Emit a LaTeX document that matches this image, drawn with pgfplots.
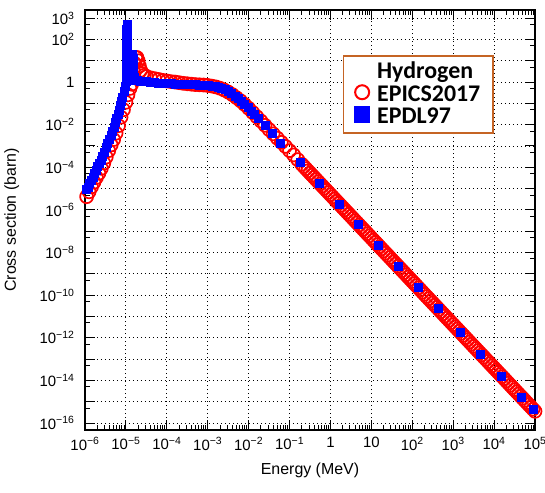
\documentclass[border=0pt]{standalone}
\usepackage{pgfplots}
\pgfplotsset{compat=1.18}
\usepackage{fontspec}
\setmainfont{Liberation Sans}
\newfontfamily\carlito{Carlito}
\definecolor{legbrown}{RGB}{197,100,36}
\begin{document}
\begin{tikzpicture}
\useasboundingbox (-85bp,-63bp) rectangle (460bp,430bp);
\begin{axis}[
  at={(0,0)}, anchor=south west,
  scale only axis, width=450bp, height=420bp,
  xmode=log, ymode=log,
  xmin=1e-6, xmax=1e5, ymin=4.7e-17, ymax=2.4e3,
  clip=false,
  axis line style={line width=1.8bp},
  tick style={black, line width=1bp},
  major tick length=10bp, minor tick length=5bp,
  xtick={1e-6,1e-5,1e-4,1e-3,1e-2,1e-1,1,10,1e2,1e3,1e4,1e5},
  xticklabels={10\textsuperscript{−6},10\textsuperscript{−5},10\textsuperscript{−4},10\textsuperscript{−3},10\textsuperscript{−2},10\textsuperscript{−1},1,10,10\textsuperscript{2},10\textsuperscript{3},10\textsuperscript{4},10\textsuperscript{5}},
  minor xtick={2e-6,3e-6,4e-6,5e-6,6e-6,7e-6,8e-6,9e-6,
    2e-5,3e-5,4e-5,5e-5,6e-5,7e-5,8e-5,9e-5,
    2e-4,3e-4,4e-4,5e-4,6e-4,7e-4,8e-4,9e-4,
    2e-3,3e-3,4e-3,5e-3,6e-3,7e-3,8e-3,9e-3,
    2e-2,3e-2,4e-2,5e-2,6e-2,7e-2,8e-2,9e-2,
    0.2,0.3,0.4,0.5,0.6,0.7,0.8,0.9,
    2,3,4,5,6,7,8,9,
    20,30,40,50,60,70,80,90,
    200,300,400,500,600,700,800,900,
    2000,3000,4000,5000,6000,7000,8000,9000,
    20000,30000,40000,50000,60000,70000,80000,90000},
  ytick={1e-16,1e-15,1e-14,1e-13,1e-12,1e-11,1e-10,1e-9,1e-8,1e-7,1e-6,1e-5,1e-4,1e-3,1e-2,1e-1,1,10,100,1000},
  yticklabels={10\textsuperscript{−16},{},10\textsuperscript{−14},{},10\textsuperscript{−12},{},10\textsuperscript{−10},{},10\textsuperscript{−8},{},10\textsuperscript{−6},{},10\textsuperscript{−4},{},10\textsuperscript{−2},{},1,{},10\textsuperscript{2},10\textsuperscript{3}},
  minor ytick={5e-17,5e-16,5e-15,5e-14,5e-13,5e-12,5e-11,5e-10,5e-9,5e-8,5e-7,5e-6,5e-5,5e-4,5e-3,5e-2,0.5,5,50,500},
  grid=major,
  major grid style={black, line width=0.9bp, dash pattern=on 1.1bp off 2.9bp},
  xticklabel style={font=\fontsize{15}{15}\selectfont, yshift=-4bp},
  yticklabel style={font=\fontsize{15}{15}\selectfont, xshift=-7bp},
  xlabel={Energy (MeV)}, ylabel={Cross section (barn)},
  label style={font=\fontsize{16}{16}\selectfont},
  xlabel style={at={(axis description cs:0.5,-0.095)}, anchor=center},
  ylabel style={at={(axis description cs:-0.163,0.5)}, anchor=center},
  legend style={at={(axis description cs:0.573,0.893)}, anchor=north west,
    draw=legbrown, line width=1.6bp, fill=white,
    font=\carlito\bfseries\fontsize{24}{26}\selectfont,
    cells={anchor=west},
    nodes={inner xsep=2bp, inner ysep=1bp, text height=17bp, text depth=3bp},
    inner xsep=10.5bp, inner ysep=5bp, row sep=0.5bp},
  legend image code/.code={\path (-7bp,2bp) (12bp,2bp); \draw[#1] plot coordinates {(0bp,2bp)};},
]
% EPICS2017 (red open circles)
\addplot[forget plot, only marks, mark=o, mark size=6.5bp, draw=red, line width=1.7bp] coordinates {
(1.096e-6,4.17e-6) (1.259e-6,7.08e-6) (1.445e-6,1.20e-5) (1.660e-6,2.00e-5)
(1.905e-6,3.31e-5) (2.188e-6,5.25e-5) (2.512e-6,8.91e-5) (2.884e-6,1.585e-4)
(3.311e-6,3.02e-4) (3.802e-6,6.03e-4) (4.365e-6,1.12e-3) (5.012e-6,2.00e-3)
(5.754e-6,3.98e-3) (6.607e-6,8.91e-3) (7.586e-6,2.24e-2) (8.710e-6,5.01e-2)
(1.0e-5,0.112) (1.122e-5,0.251) (1.259e-5,0.501) (1.380e-5,0.794)
(1.479e-5,2.0) (1.514e-5,3.98)
(1.585e-5,7.94) (1.738e-5,14.1) (1.862e-5,14.1) (1.995e-5,10.0)
(2.138e-5,5.62) (2.291e-5,3.55) (2.512e-5,2.51) (2.818e-5,2.09)
(3.162e-5,1.82) (3.981e-5,1.585) (5.012e-5,1.445) (6.310e-5,1.318)
(7.943e-5,1.202) (1e-4,1.122) (1.259e-4,1.047) (1.585e-4,1.0)
(1.995e-4,0.933) (2.512e-4,0.871) (3.162e-4,0.832) (3.981e-4,0.794)
(5.012e-4,0.759) (6.310e-4,0.741) (7.943e-4,0.724) (1e-3,0.692)
(1.259e-3,0.646) (1.585e-3,0.589) (1.995e-3,0.513) (2.512e-3,0.427)
(3.162e-3,0.339) (3.981e-3,0.257) (5.012e-3,0.186) (6.310e-3,0.132)
(7.943e-3,0.0891) (1e-2,0.0589) (1.259e-2,0.0372) (1.585e-2,0.0234)
(1.995e-2,0.0148) (2.512e-2,9.33e-3) (3.162e-2,5.89e-3) (3.981e-2,3.72e-3)
(5.012e-2,2.34e-3) (6.310e-2,1.48e-3) (7.943e-2,9.55e-4) (0.1,6.03e-4)
(0.1259,3.80e-4) (0.1585,2.29e-4)
(0.1995,1.38e-4) (0.2239,1.092e-4) (0.2512,8.61e-5) (0.2818,6.81e-5)
(0.3162,5.40e-5) (0.3548,4.27e-5) (0.3981,3.38e-5) (0.4467,2.67e-5)
(0.5012,2.11e-5) (0.5623,1.67e-5) (0.6310,1.32e-5) (0.7079,1.044e-5)
(0.7943,8.30e-6) (0.8913,6.57e-6) (1,5.19e-6) (1.122,4.11e-6)
(1.259,3.25e-6) (1.413,2.57e-6) (1.585,2.04e-6) (1.778,1.61e-6)
(1.995,1.27e-6) (2.239,1.005e-6) (2.512,7.98e-7) (2.818,6.31e-7)
(3.162,5.00e-7) (3.548,3.96e-7) (3.981,3.13e-7) (4.467,2.48e-7)
(5.012,1.96e-7) (5.623,1.55e-7) (6.310,1.23e-7) (7.079,9.73e-8)
(7.943,7.67e-8) (8.913,6.07e-8) (10,4.81e-8) (11.22,3.80e-8)
(12.59,3.01e-8) (14.13,2.38e-8) (15.85,1.88e-8) (17.78,1.49e-8)
(19.95,1.18e-8) (22.39,9.33e-9) (25.12,7.40e-9) (28.18,5.85e-9)
(31.62,4.62e-9) (35.48,3.65e-9) (39.81,2.90e-9) (44.67,2.29e-9)
(50.12,1.82e-9) (56.23,1.44e-9) (63.10,1.14e-9) (70.79,9.02e-10)
(79.43,7.11e-10) (89.13,5.62e-10) (100,4.46e-10) (112.2,3.53e-10)
(125.9,2.79e-10) (141.3,2.21e-10) (158.5,1.75e-10) (177.8,1.38e-10)
(199.5,1.09e-10) (223.9,8.62e-11) (251.2,6.84e-11) (281.8,5.41e-11)
(316.2,4.29e-11) (354.8,3.39e-11) (398.1,2.69e-11) (446.7,2.13e-11)
(501.2,1.68e-11) (562.3,1.33e-11) (631.0,1.05e-11) (707.9,8.31e-12)
(794.3,6.59e-12) (891.3,5.21e-12) (1000,4.12e-12) (1122,3.26e-12)
(1259,2.58e-12) (1413,2.04e-12) (1585,1.62e-12) (1778,1.28e-12)
(1995,1.01e-12) (2239,7.99e-13) (2512,6.34e-13) (2818,5.01e-13)
(3162,3.97e-13) (3548,3.14e-13) (3981,2.48e-13) (4467,1.96e-13)
(5012,1.56e-13) (5623,1.23e-13) (6310,9.75e-14) (7079,7.71e-14)
(7943,6.10e-14) (8913,4.83e-14) (10000,3.82e-14) (11220,3.02e-14)
(12589,2.39e-14) (14125,1.89e-14) (15849,1.50e-14) (17783,1.19e-14)
(19953,9.38e-15) (22387,7.42e-15) (25119,5.87e-15) (28184,4.64e-15)
(31623,3.67e-15) (35481,2.90e-15) (39811,2.30e-15) (44668,1.82e-15)
(50119,1.44e-15) (56234,1.14e-15) (63096,9.02e-16) (70795,7.13e-16)
(79433,5.65e-16) (89125,4.47e-16) (100000,3.54e-16)
};
% EPDL97 (blue filled squares)
\addplot[forget plot, only marks, mark=square*, mark size=4bp, draw=blue, fill=blue] coordinates {
(1.072e-6,8.91e-6) (1.175e-6,1.175e-5) (1.288e-6,1.70e-5) (1.413e-6,2.45e-5)
(1.549e-6,3.55e-5) (1.698e-6,5.13e-5) (1.862e-6,7.41e-5) (2.042e-6,1.07e-4)
(2.239e-6,1.55e-4) (2.455e-6,2.19e-4) (2.692e-6,3.39e-4) (2.951e-6,5.25e-4)
(3.236e-6,8.32e-4) (3.548e-6,1.29e-3) (3.890e-6,2.04e-3) (4.266e-6,3.16e-3)
(4.677e-6,5.01e-3) (5.129e-6,7.76e-3) (5.495e-6,1.26e-2) (5.888e-6,2.04e-2)
(6.310e-6,3.16e-2) (6.761e-6,5.01e-2) (7.244e-6,7.76e-2) (7.762e-6,0.120)
(8.318e-6,0.200) (8.913e-6,0.355) (9.550e-6,0.631) (1.0e-5,1.12)
(1.04e-5,1.78) (1.04e-5,3.16) (1.04e-5,5.62) (1.04e-5,10) (1.04e-5,17.8)
(1.04e-5,31.6) (1.04e-5,56.2) (1.04e-5,100) (1.04e-5,178) (1.04e-5,316)
(1.07e-5,525)
(1.10e-5,316) (1.10e-5,178) (1.10e-5,100) (1.10e-5,56.2) (1.10e-5,31.6)
(1.10e-5,20.0) (1.25e-5,20.0) (1.45e-5,20.0) (1.48e-5,12.6) (1.50e-5,7.08)
(1.52e-5,4.47) (1.55e-5,2.82) (1.60e-5,1.78) (1.70e-5,1.26) (1.905e-5,1.17)
(2.188e-5,1.15) (2.512e-5,1.10) (3.162e-5,1.05) (3.981e-5,1.0)
(5.012e-5,0.955) (6.310e-5,0.912) (7.943e-5,0.891) (1e-4,0.871)
(1.259e-4,0.851) (1.585e-4,0.832) (1.995e-4,0.813) (2.399e-4,0.794)
(3.467e-4,0.776) (4.169e-4,0.759) (5.012e-4,0.759) (6.026e-4,0.741)
(7.244e-4,0.724) (8.710e-4,0.708) (1.047e-3,0.692) (1.259e-3,0.661)
(1.514e-3,0.617) (1.820e-3,0.562) (2.188e-3,0.501) (2.630e-3,0.437)
(3.162e-3,0.363) (3.802e-3,0.288) (4.571e-3,0.224) (5.495e-3,0.170)
(6.607e-3,0.126) (7.943e-3,0.0891) (9.550e-3,0.0631) (1.148e-2,0.0437)
(1.380e-2,0.0302) (1.698e-2,0.0195) (2.512e-2,9.33e-3) (3.715e-2,4.17e-3)
(5.888e-2,1.38e-3)
(0.182,1.66e-4) (0.537,1.84e-5) (1.622,1.95e-6) (4.898,2.04e-7)
(14.79,2.19e-8) (45.71,2.19e-9) (138.0,2.29e-10) (426.6,2.34e-11)
(1479,1.86e-12) (4677,1.78e-13) (15136,1.66e-14) (46774,1.66e-15)
(91201,4.27e-16)
};
\addlegendimage{empty legend}
\addlegendentry{Hydrogen}
\addlegendimage{only marks, mark=o, mark size=7bp, draw=red, line width=2bp}
\addlegendentry{EPICS2017}
\addlegendimage{only marks, mark=square*, mark size=7.5bp, draw=blue, fill=blue}
\addlegendentry{EPDL97}
\end{axis}
\end{tikzpicture}
\end{document}
